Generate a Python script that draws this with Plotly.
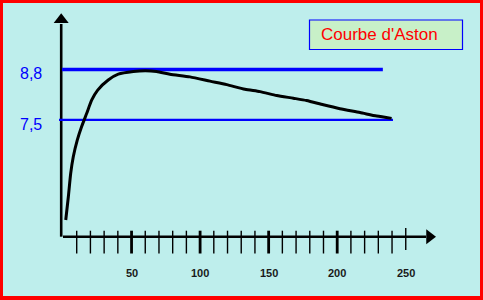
import plotly.graph_objects as go

# ---- data ----
distance = [2.0, 3.9, 5.6, 7.5, 10.4, 13.6, 17.3, 20.9, 25.3, 33.0, 40.3, 51.3, 60, 68.3,
            78, 92.6, 107.2, 119.4, 132.7, 143.7, 155.9, 168, 177.7, 189.9, 202,
            216.6, 228.8, 239.7]
energy = [4.92, 5.52, 6.12, 6.55, 6.98, 7.33, 7.67, 8.01, 8.27, 8.53, 8.68, 8.75,
          8.77, 8.75, 8.68, 8.61, 8.50, 8.41, 8.29, 8.23, 8.13, 8.06, 8.00, 7.89,
          7.79, 7.69, 7.60, 7.54]
ref_levels = [8.8, 7.5]
ref_labels = ["8,8", "7,5"]
ref_starts = [-0.7, -2.9]
ref_ends = [233.3, 240.7]
ref_widths = [3.5, 2.2]
minor_ticks = [10, 20, 30, 40, 60, 70, 80, 90, 110, 120, 130, 140, 160, 170, 180,
               190, 210, 220, 230, 240]
major_ticks = [50, 100, 150, 200]
end_tick = [250]
tick_labels = [50, 100, 150, 200, 250]
title_text = "Courbe d'Aston"

# ---- scale helpers (pixel geometry of the frame) ----
X0_PX, X_PER_UNIT = 63.0, 1.371
Y_REF_PX, Y_PER_UNIT = 69.5, 38.8
def px2x(px):
    return (px - X0_PX) / X_PER_UNIT
def px2y(py):
    return 8.8 - (py - Y_REF_PX) / Y_PER_UNIT

M_L, M_R, M_T, M_B = 3, 3, 3, 4
W, H = 483, 300

FONT = "Arial, Liberation Sans, sans-serif"
fig = go.Figure()

# axes lines
axis_y = px2y(236.7)
axis_x = px2x(61.2)
fig.add_trace(go.Scatter(x=[px2x(63), px2x(426)], y=[axis_y, axis_y], mode="lines",
                         line=dict(color="black", width=2.6), hoverinfo="skip"))
fig.add_trace(go.Scatter(x=[axis_x, axis_x], y=[axis_y, px2y(24)], mode="lines",
                         line=dict(color="black", width=2.6), hoverinfo="skip"))
# arrow heads
fig.add_trace(go.Scatter(x=[px2x(429.5)], y=[axis_y], mode="markers",
                         marker=dict(symbol="triangle-right", size=13, color="black",
                                     line=dict(width=0)), hoverinfo="skip"))
fig.add_trace(go.Scatter(x=[axis_x], y=[px2y(19.8)], mode="markers",
                         marker=dict(symbol="triangle-up", size=13, color="black",
                                     line=dict(width=0)), hoverinfo="skip"))

# ticks
def tick_segments(vals, top, bot):
    xs, ys = [], []
    for v in vals:
        xs += [v, v, None]
        ys += [top, bot, None]
    return xs, ys

tx, ty = tick_segments(minor_ticks, px2y(230.7), px2y(253.5))
fig.add_trace(go.Scatter(x=tx, y=ty, mode="lines", line=dict(color="black", width=1.4),
                         hoverinfo="skip"))
tx, ty = tick_segments(major_ticks, px2y(230.7), px2y(253.5))
fig.add_trace(go.Scatter(x=tx, y=ty, mode="lines", line=dict(color="black", width=2.8),
                         hoverinfo="skip"))
tx, ty = tick_segments(end_tick, px2y(228), px2y(250))
fig.add_trace(go.Scatter(x=tx, y=ty, mode="lines", line=dict(color="black", width=1.4),
                         hoverinfo="skip"))

# reference levels
for lvl, x0, x1, w in zip(ref_levels, ref_starts, ref_ends, ref_widths):
    fig.add_trace(go.Scatter(x=[x0, x1], y=[lvl, lvl], mode="lines",
                             line=dict(color="#0000FF", width=w), hoverinfo="skip"))

# Aston curve
fig.add_trace(go.Scatter(x=distance, y=energy, mode="lines",
                         line=dict(color="black", width=3, shape="spline", smoothing=0.6),
                         hoverinfo="skip"))

# tick labels
for v in tick_labels:
    fig.add_annotation(x=v, y=px2y(272.5), text=f"<b>{v}</b>", showarrow=False,
                       font=dict(family=FONT, size=11, color="#1a1a1a"),
                       xanchor="center", yanchor="middle")

# reference labels
for lvl, lab in zip(ref_levels, ref_labels):
    fig.add_annotation(x=px2x(30.5), y=lvl - 0.11, text=lab, showarrow=False,
                       font=dict(family=FONT, size=16, color="#0000FF"),
                       xanchor="center", yanchor="middle")

# title box
fig.add_shape(type="rect", x0=px2x(309.5), x1=px2x(462.5), y0=px2y(20), y1=px2y(49.5),
              line=dict(color="#0000FF", width=1.2), fillcolor="#C8F0C8", layer="below")
fig.add_annotation(x=px2x(319), y=px2y(34.5), text=title_text, showarrow=False,
                   font=dict(family=FONT, size=17, color="#FF0000"),
                   xanchor="left", yanchor="middle")

fig.update_layout(
    width=W, height=H,
    margin=dict(l=M_L, r=M_R, t=M_T, b=M_B, pad=0),
    paper_bgcolor="#FF0000",
    plot_bgcolor="#BEEEEC",
    showlegend=False,
    xaxis=dict(range=[px2x(M_L), px2x(W - M_R)], visible=False, fixedrange=True),
    yaxis=dict(range=[px2y(H - M_B), px2y(M_T)], visible=False, fixedrange=True),
)

fig.write_html("out.html", config={"displayModeBar": False},
               post_script="document.body.style.margin='0';document.body.style.overflow='hidden';")
